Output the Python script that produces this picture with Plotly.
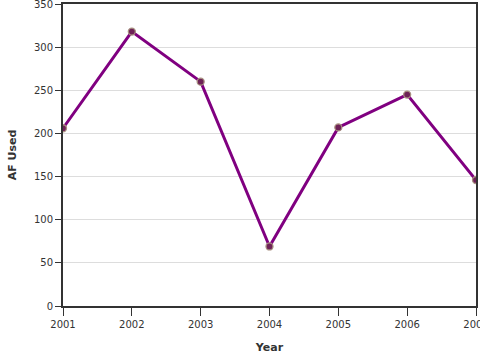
import plotly.graph_objects as go

years = [2001, 2002, 2003, 2004, 2005, 2006, 2007]
af_used = [206, 318, 260, 69, 207, 245, 146]

fig = go.Figure()
fig.add_trace(go.Scatter(
    x=years, y=af_used, mode="lines+markers",
    line=dict(color="#800080", width=3),
    marker=dict(size=7, color="#6e2257", line=dict(color="#a89080", width=1.3)),
    showlegend=False,
))

axis_common = dict(
    showline=True, linecolor="#333333", linewidth=2, mirror=True,
    ticks="outside", tickcolor="#333333", tickwidth=1,
    tickfont=dict(family="DejaVu Sans", size=10, color="#333333"),
    zeroline=False, automargin=False, ticklabeloverflow="allow",
)

fig.update_xaxes(
    range=[2001, 2007], tickmode="array", tickvals=years,
    ticktext=[str(y) for y in years], showgrid=False, ticklen=8,
    title=dict(text="<b>Year</b>", font=dict(family="DejaVu Sans", size=11, color="#333333"), standoff=14),
    **axis_common,
)
fig.update_yaxes(
    range=[0, 350], dtick=50, showgrid=True, gridcolor="#dddddd", gridwidth=1, ticklen=6,
    title=dict(text="<b>AF Used</b>", font=dict(family="DejaVu Sans", size=11, color="#333333"), standoff=15),
    **axis_common,
)

fig.update_layout(
    width=480, height=360,
    margin=dict(l=63, r=4, t=4, b=54),
    paper_bgcolor="white", plot_bgcolor="white",
    font=dict(family="DejaVu Sans", color="#333333"),
)

fig.write_html(
    "out.html",
    config={"displayModeBar": False},
    post_script="document.body.style.margin='0';document.body.style.overflow='hidden';",
)
